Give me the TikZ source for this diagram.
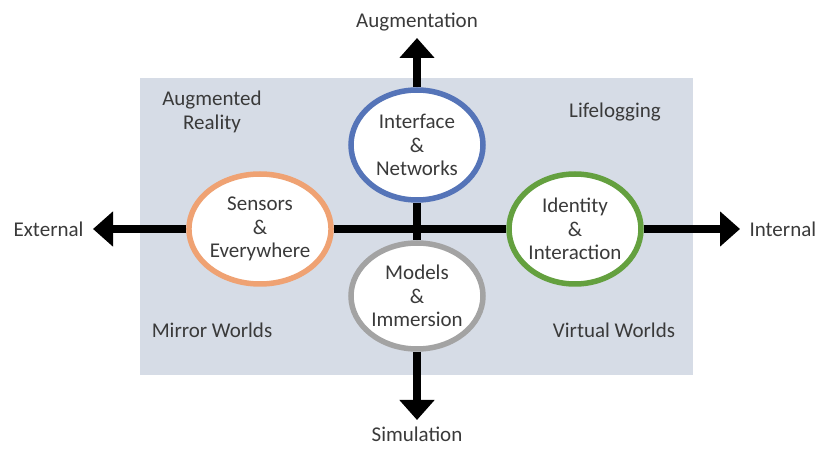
\documentclass[tikz,border=0pt]{standalone}
\usepackage{fontspec}
\setmainfont{Carlito}
\usetikzlibrary{positioning,shapes.geometric,arrows.meta}

\definecolor{panel}{HTML}{D6DCE6}
\definecolor{ink}{HTML}{3A3A3A}
\definecolor{ringblue}{HTML}{5574B8}
\definecolor{ringorange}{HTML}{EFA273}
\definecolor{ringgreen}{HTML}{64A03F}
\definecolor{ringgray}{HTML}{A3A3A3}

\tikzset{
  ring/.style={ellipse,fill=white,line width=5.5pt,minimum width=132pt,
    minimum height=110pt,inner sep=0pt,align=center,text=ink},
  label/.style={align=center,text=ink},
  axis/.style={line width=8pt,draw=black},
  axisarrow/.style={axis,-{Triangle[width=34pt,length=20pt]}}
}

\begin{document}
\begin{tikzpicture}[x=1pt,y=1pt,font=\fontsize{21}{23.5}\selectfont]
  \useasboundingbox (0,0) rectangle (823,450);
  \fill[panel] (140,75) rectangle (693,372);

  % arrow tips
  \coordinate (ntip) at (417,412);
  \coordinate (stip) at (417,30);
  \coordinate (wtip) at (93,221);
  \coordinate (etip) at (740,221);

  % the four rings
  \node[ring,draw=ringblue] (iface) at (417,305) {Interface\\\&\\Networks};
  \node[ring,draw=ringorange] (sensor) at (260,221) {Sensors\\\&\\Everywhere};
  \node[ring,draw=ringgreen] (ident) at (575,221) {Identity\\\&\\Interaction};
  \node[ring,draw=ringgray,minimum height=106pt] (model) at (417,154) {Models\\\&\\Immersion};

  % axes
  \path (sensor) edge[axis] (ident)
        edge[axisarrow] (wtip);
  \path (iface) edge[axis] (model)
        edge[axisarrow] (ntip);
  \path (ident) edge[axisarrow] (etip);
  \path (model) edge[axisarrow] (stip);

  % axis names
  \node[label] (aug) [above=3pt of ntip] {Augmentation};
  \node[label] (sim) [below=3pt of stip] {Simulation};
  \node[label] (ext) [left=6pt of wtip] {External};
  \node[label] (int) [right=6pt of etip] {Internal};

  % quadrant names
  \node[label] (ar) at (212,338) {Augmented\\Reality};
  \node[label] (life) at (615,338) {Lifelogging};
  \node[label] (mirror) at (212,120) {Mirror Worlds};
  \node[label] (virt) at (614,120) {Virtual Worlds};
\end{tikzpicture}
\end{document}
